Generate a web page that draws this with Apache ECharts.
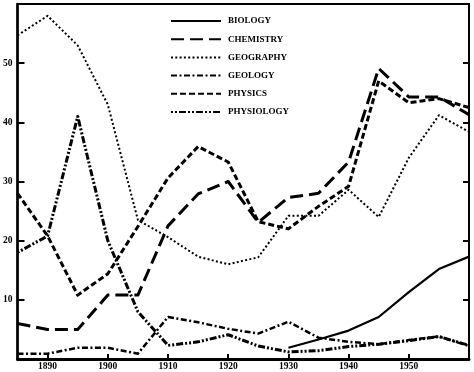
<!DOCTYPE html>
<html>
<head>
<meta charset="utf-8">
<script src="https://cdn.jsdelivr.net/npm/echarts@6/dist/echarts.min.js"></script>
<style>
html,body{margin:0;padding:0;background:#fff;}
#chart{width:474px;height:372px;}
</style>
</head>
<body>
<div id="chart"></div>
<script>
const years = ['1885','1890','1895','1900','1905','1910','1915','1920','1925','1930','1935','1940','1945','1950','1955','1960'];
const yTickLabels = ['10','20','30','40','50'];
const biology    = [null, null, null, null, null, null, null, null, null, 1.9, 3.3, 4.8, 7.1, 11.3, 15.2, 17.3];
const chemistry  = [6.0, 5.0, 5.0, 10.8, 10.8, 22.5, 27.9, 30.0, 23.1, 27.3, 28.0, 33.3, 49.1, 44.3, 44.3, 41.3];
const geography  = [54.7, 58.0, 53.0, 43.0, 23.5, 20.6, 17.3, 16.0, 17.2, 24.2, 24.2, 28.6, 24.0, 34.0, 41.2, 38.4];
const geology    = [0.9, 0.9, 1.9, 1.9, 0.9, 7.1, 6.2, 5.1, 4.3, 6.3, 3.6, 2.9, 2.5, 3.2, 3.8, 2.2];
const physics    = [28.0, 20.8, 10.8, 14.4, 22.4, 30.6, 35.9, 33.3, 23.2, 22.0, 25.8, 29.2, 47.0, 43.3, 44.0, 42.5];
const physiology = [18.0, 20.8, 41.0, 20.0, 8.0, 2.3, 2.9, 4.1, 2.2, 1.2, 1.4, 2.1, 2.5, 3.1, 3.8, 2.3];

const FONT = '"Liberation Serif", "DejaVu Serif", serif';
const chart = echarts.init(document.getElementById('chart'), null, {renderer: 'canvas'});

function mk(name, data, width, dash) {
  return {
    name: name, type: 'line', data: data, symbol: 'none', showSymbol: false,
    connectNulls: false, animation: false, silent: true,
    lineStyle: {color: '#000', width: width, type: dash, cap: 'butt', join: 'round'},
    itemStyle: {color: '#000'}
  };
}
const showYear = (i, v) => { const y = parseInt(v, 10); return y % 10 === 0 && y < 1960; };

chart.setOption({
  animation: false,
  backgroundColor: '#fff',
  grid: {left: 16, right: 5, top: 4, bottom: 12, show: true, borderColor: '#000', borderWidth: 2, backgroundColor: 'transparent'},
  legend: {
    orient: 'vertical', left: 165, top: 9, itemWidth: 50, itemHeight: 14, itemGap: 4.2,
    itemStyle: {opacity: 0, borderWidth: 0},
    textStyle: {fontFamily: FONT, fontWeight: 'bold', fontSize: 9, color: '#000', padding: [0,0,0,2], lineHeight: 14},
    data: ['BIOLOGY','CHEMISTRY','GEOGRAPHY','GEOLOGY','PHYSICS','PHYSIOLOGY']
  },
  xAxis: [{
    type: 'category', data: years, boundaryGap: false,
    axisLine: {show: true, lineStyle: {color: '#000', width: 3}},
    axisTick: {show: true, inside: true, length: 5, interval: showYear, lineStyle: {color: '#000', width: 2}},
    axisLabel: {interval: showYear, fontFamily: FONT, fontWeight: 'bold', fontSize: 9.5, color: '#000', margin: 3},
    splitLine: {show: false}
  }],
  yAxis: [{
    type: 'value', min: 0, max: 60, interval: 10, position: 'left',
    axisLine: {show: true, lineStyle: {color: '#000', width: 2.5}},
    axisTick: {show: true, inside: true, length: 7, lineStyle: {color: '#000', width: 2}},
    axisLabel: {fontFamily: FONT, fontWeight: 'bold', fontSize: 9.5, color: '#000', margin: 5,
      formatter: v => (yTickLabels.indexOf(String(v)) >= 0 ? String(v) : '')},
    splitLine: {show: false}
  }, {
    type: 'value', min: 0, max: 60, interval: 10, position: 'right',
    axisLine: {show: true, lineStyle: {color: '#000', width: 2}},
    axisTick: {show: true, inside: true, length: 6, lineStyle: {color: '#000', width: 2}},
    axisLabel: {show: false},
    splitLine: {show: false}
  }],
  series: [
    mk('BIOLOGY', biology, 2.2, 'solid'),
    mk('CHEMISTRY', chemistry, 3, [13, 6]),
    mk('GEOGRAPHY', geography, 2, [2, 2.3]),
    mk('GEOLOGY', geology, 2.5, [6, 2.5, 2, 2.5]),
    mk('PHYSICS', physics, 3, [6, 3]),
    mk('PHYSIOLOGY', physiology, 3, [2, 2, 2, 2, 7, 2])
  ]
});
</script>
</body>
</html>
